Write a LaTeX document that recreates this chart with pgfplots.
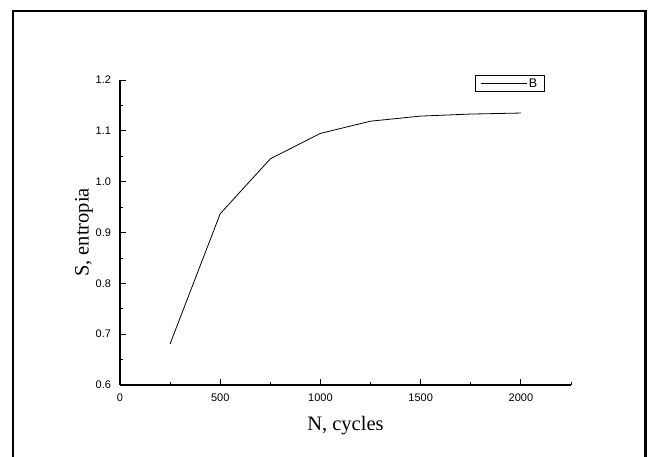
\documentclass[border=0pt]{standalone}
\usepackage{fontspec}
\setmainfont{Liberation Serif}
\newfontfamily\arial{Liberation Sans}
\usepackage{pgfplots}
\pgfplotsset{compat=1.18}
\begin{document}
\begin{tikzpicture}[x=1pt,y=1pt]
\useasboundingbox (0,0) rectangle (653,457);
\clip (0,0) rectangle (653,457);
\fill[white] (0,0) rectangle (653,457);
\draw[line width=2.2pt] (12.8,-20) -- (12.8,446.3) -- (645.5,446.3) -- (645.5,-20);
\begin{axis}[
  at={(120pt,72pt)}, anchor=south west,
  scale only axis, width=451pt, height=305pt,
  xmin=0, xmax=2250, ymin=0.6, ymax=1.2,
  axis x line*=bottom, axis y line*=left,
  axis line style={line width=1.2pt, -},
  xtick={0,500,1000,1500,2000},
  minor xtick={250,750,1250,1750,2250},
  ytick={0.6,0.7,0.8,0.9,1.0,1.1,1.2},
  minor ytick={0.65,0.75,0.85,0.95,1.05,1.15},
  tick align=inside,
  major tick length=5.5pt, minor tick length=3pt,
  every tick/.style={line width=0.8pt, black},
  tick label style={font=\arial\fontsize{11}{12}\selectfont},
  /pgf/number format/assume math mode=true,
  yticklabel style={xshift=-5.5pt, /pgf/number format/.cd, fixed, fixed zerofill, precision=1},
  xticklabel style={yshift=-5pt, /pgf/number format/.cd, 1000 sep={}},
  xlabel={N, cycles}, ylabel={S, entropia},
  label style={font=\fontsize{20.5}{22}\selectfont},
  x label style={at={(axis description cs:0.5,-0.133)}, anchor=center},
  y label style={at={(axis description cs:-0.0798,0.5)}, anchor=center, rotate=0},
  legend style={at={(rel axis cs:0.788,1.016)}, anchor=north west, draw=black, line width=0.6pt,
    font=\arial\fontsize{12.5}{12.5}\selectfont, inner xsep=4.5pt, inner ysep=1pt},
  legend image code/.code={\draw[line width=0.7pt] (2.5pt,0pt) -- (45.5pt,0pt); \path (0pt,0pt) -- (46pt,0pt);},
]
\addplot[black, line width=0.8pt] coordinates {
 (250,0.681) (500,0.937) (750,1.045) (1000,1.095) (1250,1.119) (1500,1.129) (1750,1.133) (2000,1.135)
};
\addlegendentry{B}
\end{axis}
\end{tikzpicture}
\end{document}
